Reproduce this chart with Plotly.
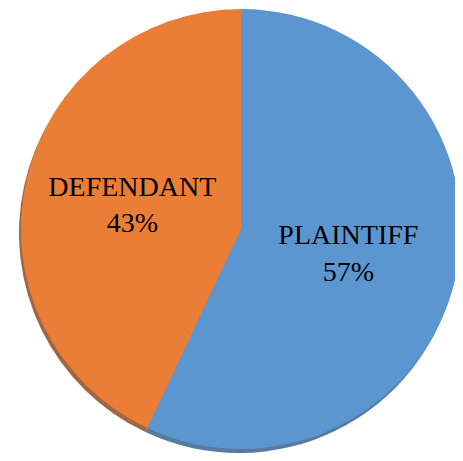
import plotly.graph_objects as go

labels = ["PLAINTIFF", "DEFENDANT"]
values = [57, 43]
colors = ["#5b96d1", "#ea7e36"]
shadow_colors = ["#2f5a86", "#8a4216"]

W, H = 463, 461
# page body has an 8px margin; centre of pie in figure coords
cx, cy, r = 233, 221, 220

def dom(dx=0, dy=0):
    x0 = (cx + dx - r) / W
    x1 = (cx + dx + r) / W
    yb = H - (cy + dy)
    return dict(x=[x0, x1], y=[(yb - r) / H, (yb + r) / H])

fig = go.Figure()
fig.add_trace(go.Pie(
    labels=labels, values=values, sort=False, direction="clockwise", rotation=0,
    marker=dict(colors=shadow_colors, line=dict(width=0)),
    textinfo="none", hoverinfo="skip", showlegend=False,
    domain=dom(-2, 4), opacity=0.8,
))
fig.add_trace(go.Pie(
    labels=labels, values=values, sort=False, direction="clockwise", rotation=0,
    marker=dict(colors=colors, line=dict(width=0)),
    textinfo="label+percent", textposition="inside", insidetextorientation="horizontal",
    texttemplate="%{label}<br>%{percent:.0%}",
    textfont=dict(family="Liberation Serif", size=28, color="#000000"),
    showlegend=False, domain=dom(),
))
fig.update_layout(
    width=W, height=H, margin=dict(l=0, r=0, t=0, b=0),
    paper_bgcolor="white", plot_bgcolor="white",
)
fig.write_html("out.html")
